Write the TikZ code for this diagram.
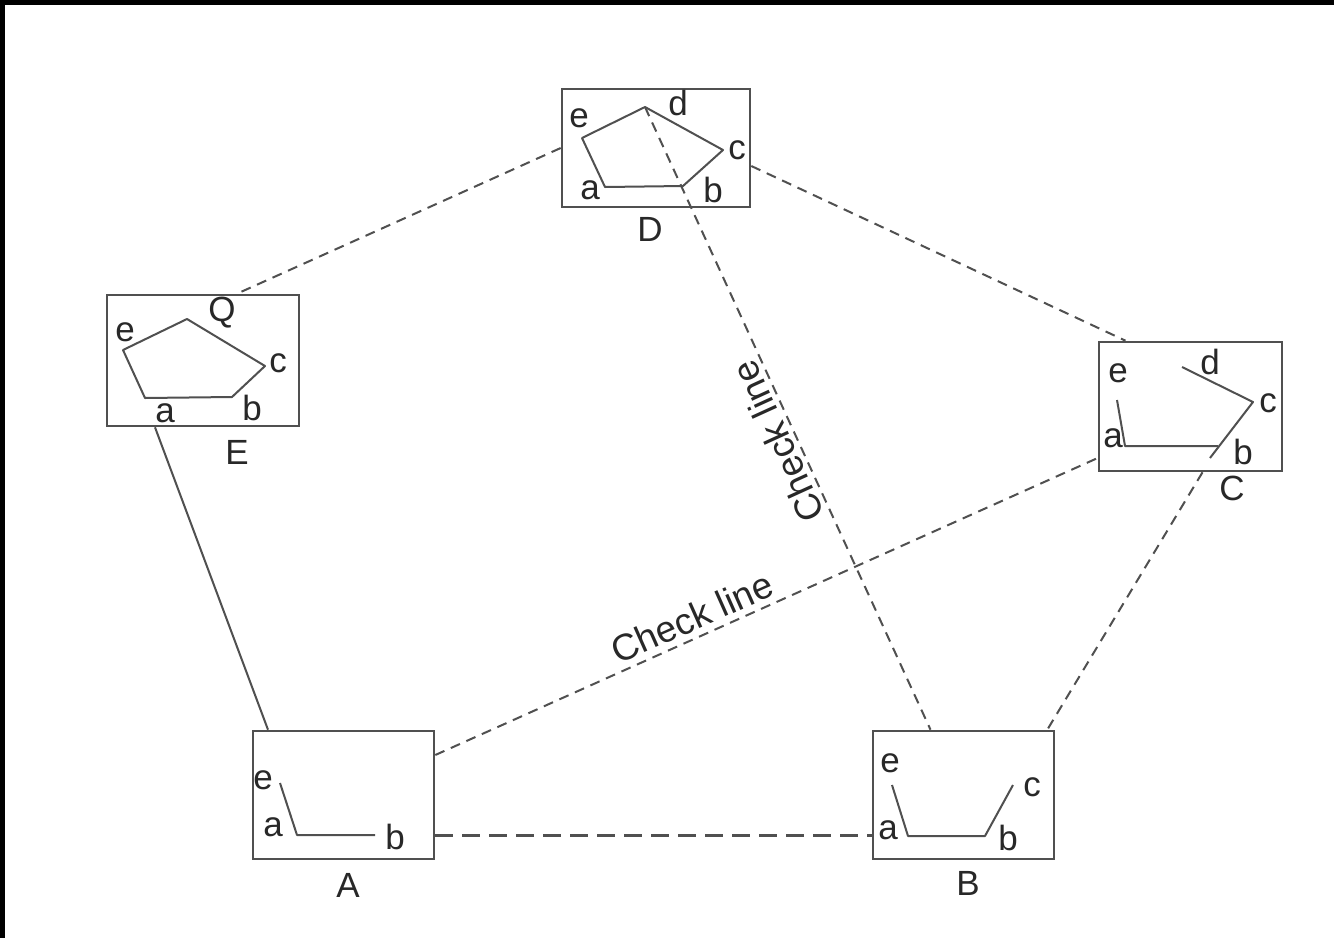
\documentclass[tikz,border=0pt]{standalone}
\usepackage{fontspec}
\setmainfont{Liberation Sans}
\definecolor{lnGray}{RGB}{80,80,80}
\definecolor{txtGray}{RGB}{40,40,40}
\usetikzlibrary{calc}

\begin{document}
\begin{tikzpicture}[x=0.5pt,y=-0.5pt,
    pbox/.style={draw=lnGray,line width=1.3pt,inner sep=0pt},
    poly/.style={draw=lnGray,line width=1pt,line join=round},
    lbl/.style={font=\fontsize{17.5}{20}\selectfont,text=txtGray,inner sep=0pt},
    chklbl/.style={lbl,font=\fontsize{18.5}{21}\selectfont},
    chk/.style={draw=lnGray,line width=1pt,dash pattern=on 5pt off 3.5pt},
    chkthick/.style={draw=lnGray,line width=1.5pt,dash pattern=on 9pt off 4.5pt}]
  % page and the black edge of the scan
  \fill[white] (0,0) rectangle (1334,938);
  \useasboundingbox (0,0) rectangle (1334,938);
  \fill[black] (0,0) rectangle (1334,5);
  \fill[black] (0,0) rectangle (5,938);

  % stations
  \node[pbox,minimum width=94pt,minimum height=59pt] (D) at (656,148) {};
  \node[pbox,minimum width=96pt,minimum height=65.5pt] (E) at (203,360.5) {};
  \node[pbox,minimum width=91.5pt,minimum height=64.5pt] (C) at (1190.5,406.5) {};
  \node[pbox,minimum width=90.5pt,minimum height=64pt] (A) at (343.5,795) {};
  \node[pbox,minimum width=90.5pt,minimum height=64pt] (B) at (963.5,795) {};

  % station names
  \node[lbl] (lbD) at (650,229) {D};
  \node[lbl] (lbE) at (237,452) {E};
  \node[lbl] (lbC) at (1232,488) {C};
  \node[lbl] (lbA) at (348,885) {A};
  \node[lbl] (lbB) at (968,883) {B};

  % D: closed figure
  \coordinate (Dd) at (645,107);
  \draw[poly] (605,187) -- (683,186) -- (723,150) -- (Dd) -- (582,138) -- cycle;
  \node[lbl] (De) at (579,118) {e};
  \node[lbl] (Dlb) at (678,103) {d};
  \node[lbl] (Dc) at (737,150) {c};
  \node[lbl] (Db) at (713,190) {b};
  \node[lbl] (Da) at (590,190) {a};

  % E: closed figure
  \draw[poly] (145,398) -- (232,397) -- (265,366) -- (187,319) -- (123,350) -- cycle;
  \node[lbl] (Ee) at (125,332) {e};
  \node[lbl] (EQ) at (222,313) {Q};
  \node[lbl] (Ec) at (278,363) {c};
  \node[lbl] (Eb) at (252,408) {b};
  \node[lbl] (Ea) at (165,413) {a};

  % C: open figure
  \draw[poly] (1117,400) -- (1125,446) -- (1218,446);
  \draw[poly] (1182,367) -- (1253,402) -- (1210,458);
  \node[lbl] (Ce) at (1118,373) {e};
  \node[lbl] (Cd) at (1210,362) {d};
  \node[lbl] (Cc) at (1268,403) {c};
  \node[lbl] (Cb) at (1243,452) {b};
  \node[lbl] (Ca) at (1113,438) {a};

  % A: open figure
  \draw[poly] (280,783) -- (297,835) -- (375,835);
  \node[lbl] (Ae) at (263,780) {e};
  \node[lbl] (Aa) at (273,827) {a};
  \node[lbl] (Ab) at (395,837) {b};

  % B: open figure
  \draw[poly] (892,785) -- (908,836) -- (985,836) -- (1013,785);
  \node[lbl] (Be) at (890,763) {e};
  \node[lbl] (Ba) at (888,830) {a};
  \node[lbl] (Bb) at (1008,838) {b};
  \node[lbl] (Bc) at (1032,787) {c};

  % traverse legs
  \draw[chk] (D.west) -- ([xshift=17pt]E.north);
  \draw[chk] ([yshift=-9pt]D.east) -- ([xshift=-32.5pt]C.north);
  \draw[chk] ([xshift=6pt]C.south) -- ([xshift=-4pt]B.north east);
  \draw[poly] ([xshift=-24pt]E.south) -- ([xshift=-37.75pt]A.north);
  \draw[chkthick] ([yshift=-20pt]A.east) -- ([yshift=-20pt]B.west);

  % check lines
  \draw[chk] (Dd) -- ([xshift=-16.5pt]B.north)
    node[chklbl,pos=0.525,rotate=114.5,anchor=south,inner sep=2pt] (chk1) {Check line};
  \draw[chk] ([yshift=20pt]A.east) -- ([yshift=-25.75pt]C.west)
    node[chklbl,pos=0.4,rotate=24,anchor=south,inner sep=3pt] (chk2) {Check line};
\end{tikzpicture}
\end{document}
